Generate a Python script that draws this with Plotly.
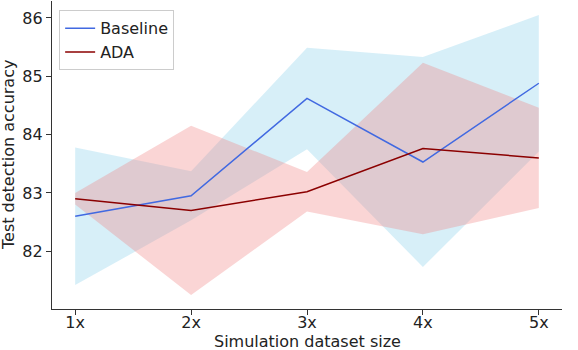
import plotly.graph_objects as go

SIZES = [1, 2, 3, 4, 5]
SIZE_LABELS = ["1x", "2x", "3x", "4x", "5x"]

BASELINE_MEAN = [82.60, 82.95, 84.62, 83.53, 84.88]
BASELINE_STD = [1.18, 0.42, 0.87, 1.80, 1.17]
ADA_MEAN = [82.90, 82.70, 83.02, 83.76, 83.60]
ADA_STD = [0.10, 1.45, 0.34, 1.47, 0.86]

FONT = "DejaVu Sans"


def add_band(fig, mean, std, fillcolor):
    """Shaded mean +/- std band as a closed polygon."""
    upper = [m + s for m, s in zip(mean, std)]
    lower = [m - s for m, s in zip(mean, std)]
    fig.add_trace(
        go.Scatter(
            x=SIZES + SIZES[::-1],
            y=upper + lower[::-1],
            fill="toself",
            fillcolor=fillcolor,
            line=dict(width=0),
            mode="lines",
            hoverinfo="skip",
            showlegend=False,
        )
    )


fig = go.Figure()
add_band(fig, BASELINE_MEAN, BASELINE_STD, "rgba(135, 206, 235, 0.33)")
add_band(fig, ADA_MEAN, ADA_STD, "rgba(240, 128, 128, 0.33)")

fig.add_trace(go.Scatter(x=SIZES, y=BASELINE_MEAN, mode="lines", name="Baseline",
                         line=dict(color="royalblue", width=1.5)))
fig.add_trace(go.Scatter(x=SIZES, y=ADA_MEAN, mode="lines", name="ADA",
                         line=dict(color="darkred", width=1.5)))

axis_style = dict(
    showgrid=False,
    zeroline=False,
    showline=True,
    linecolor="#333333",
    linewidth=1.2,
    ticks="outside",
    ticklen=5,
    tickcolor="#333333",
    tickfont=dict(family=FONT, size=16, color="#222222"),
    automargin=False,
)

fig.update_xaxes(range=[0.8, 5.2], tickvals=SIZES, ticktext=SIZE_LABELS, ticklabelstandoff=-6, **axis_style)
fig.update_yaxes(range=[81.01, 86.29], tickvals=[82, 83, 84, 85, 86], **axis_style)

# axis titles as annotations so they sit where matplotlib put them
title_font = dict(family=FONT, size=16, color="#222222")
fig.add_annotation(text="Simulation dataset size", xref="paper", yref="paper", x=0.5, y=0,
                   yshift=-32, yanchor="middle", showarrow=False, font=title_font)
fig.add_annotation(text="Test detection accuracy", xref="paper", yref="paper", x=0, y=0.5,
                   xshift=-44, xanchor="center", textangle=-90, showarrow=False, font=title_font)

fig.update_layout(
    width=578,
    height=350,
    margin=dict(l=52, r=16, t=1, b=41),
    plot_bgcolor="white",
    paper_bgcolor="white",
    font=dict(family=FONT, color="#222222"),
    legend=dict(
        x=0.014,
        y=0.97,
        xanchor="left",
        yanchor="top",
        bgcolor="rgba(255,255,255,0.8)",
        bordercolor="#cccccc",
        borderwidth=1,
        font=dict(family=FONT, size=16, color="#222222"),
        tracegroupgap=2,
    ),
)

# the page's default body margin would push the figure 8px down/right
fig.write_html("out.html", config={"displayModeBar": False},
               post_script="document.body.style.margin = '0';")
